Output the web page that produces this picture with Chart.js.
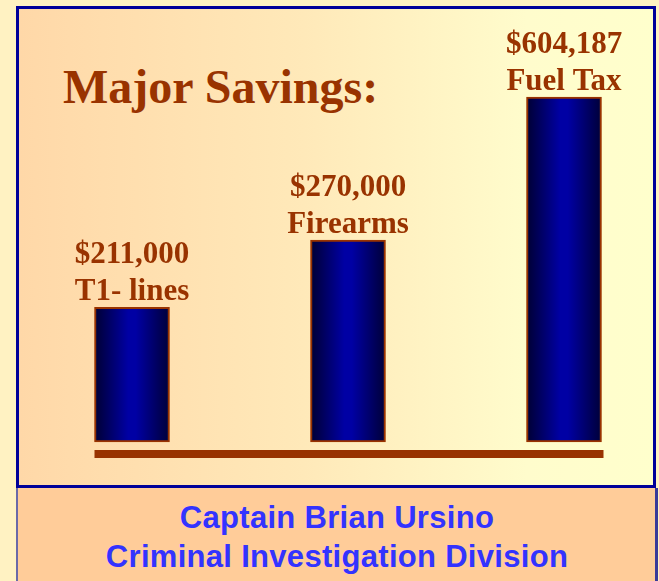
<!DOCTYPE html>
<html lang="en">
<head>
    <meta charset="UTF-8">
    <title>Major Savings</title>
    <style>
        html, body { margin: 0; padding: 0; }
        body {
            width: 659px; height: 581px; overflow: hidden; position: relative;
            background: #fff2c2;
        }
        #topBox {
            position: absolute; left: 16px; top: 6px; width: 640px; height: 482px;
            box-sizing: border-box; border: 3px solid #000099;
            background: linear-gradient(to right, #ffd8a8 0%, #ffe9b9 45%, #fffccc 80%, #ffffcc 100%);
        }
        #bottomBox {
            position: absolute; left: 16px; top: 488px; width: 642px; height: 100px;
            box-sizing: border-box; border-left: 2px solid #6a6aa8; border-right: 3px solid #3a3a99;
            background: #ffcc99;
        }
        #title {
            position: absolute; left: 63px; top: 63px; margin: 0;
            font: bold 48px "Liberation Serif", "Times New Roman", serif; line-height: 48px;
            color: #993300; white-space: nowrap;
        }
        #caption {
            position: absolute; left: 16px; top: 498px; width: 642px; text-align: center;
            font: bold 31px "Liberation Sans", Arial, sans-serif; line-height: 39px;
            color: #3333ff; letter-spacing: 0.3px;
        }
        #chart { position: absolute; left: 0; top: 0; }
    </style>
</head>
<body>
<div id="topBox"></div>
<div id="bottomBox"></div>
<div id="title">Major Savings:</div>
<div id="caption">Captain Brian Ursino<br>Criminal Investigation Division</div>
<canvas id="chart" width="659" height="581"></canvas>

<script src="https://cdn.jsdelivr.net/npm/chart.js@4/dist/chart.umd.min.js"></script>
<script>
  const categories = ['T1- lines', 'Firearms', 'Fuel Tax'];
  const savings = [211000, 270000, 604187];
  // the slide's bars are not drawn to scale, so heights are read off the picture (% of tallest)
  const barLevels = [39, 58.5, 100];

  const BROWN = '#993300';
  const LABEL_FONT = 'bold 31px "Liberation Serif", "Times New Roman", serif';

  function barGradient(context) {
    const chart = context.chart;
    if (!chart.chartArea) return '#000099';
    const x = chart.scales.x.getPixelForValue(context.dataIndex);
    const half = 37.5;
    const g = chart.ctx.createLinearGradient(x - half, 0, x + half, 0);
    g.addColorStop(0, '#000033');
    g.addColorStop(0.45, '#0000a4');
    g.addColorStop(0.55, '#0000a4');
    g.addColorStop(1, '#000038');
    return g;
  }

  const baseLine = {
    id: 'baseLine',
    afterDatasetsDraw(chart) {
      const bars = chart.getDatasetMeta(0).data;
      const first = bars[0];
      const last = bars[bars.length - 1];
      const x0 = first.x - first.width / 2;
      const x1 = last.x + last.width / 2 + 2;
      const y = chart.scales.y.getPixelForValue(0) + 12;
      const ctx = chart.ctx;
      ctx.save();
      ctx.fillStyle = BROWN;
      ctx.fillRect(x0, y - 4, x1 - x0, 8);
      ctx.restore();
    }
  };

  const barLabels = {
    id: 'barLabels',
    afterDatasetsDraw(chart) {
      const ctx = chart.ctx;
      ctx.save();
      ctx.font = LABEL_FONT;
      ctx.fillStyle = BROWN;
      ctx.textAlign = 'center';
      ctx.textBaseline = 'alphabetic';
      chart.getDatasetMeta(0).data.forEach((bar, i) => {
        const amount = '$' + savings[i].toLocaleString('en-US');
        ctx.fillText(categories[i], bar.x, bar.y - 7);
        ctx.fillText(amount, bar.x, bar.y - 44);
      });
      ctx.restore();
    }
  };

  new Chart(document.getElementById('chart'), {
    type: 'bar',
    data: {
      labels: categories,
      datasets: [{
        data: barLevels,
        backgroundColor: barGradient,
        borderColor: BROWN,
        borderWidth: 2,
        borderSkipped: false,
        barThickness: 75,
        clip: false
      }]
    },
    options: {
      responsive: false,
      animation: false,
      devicePixelRatio: 1,
      layout: {
        padding: { left: 132, right: 95, top: 97, bottom: 139 }
      },
      plugins: {
        legend: { display: false },
        title: { display: false },
        tooltip: { enabled: false }
      },
      scales: {
        x: { display: false, offset: false },
        y: { display: false, min: 0, max: 100 }
      }
    },
    plugins: [baseLine, barLabels]
  });
</script>
</body>
</html>
